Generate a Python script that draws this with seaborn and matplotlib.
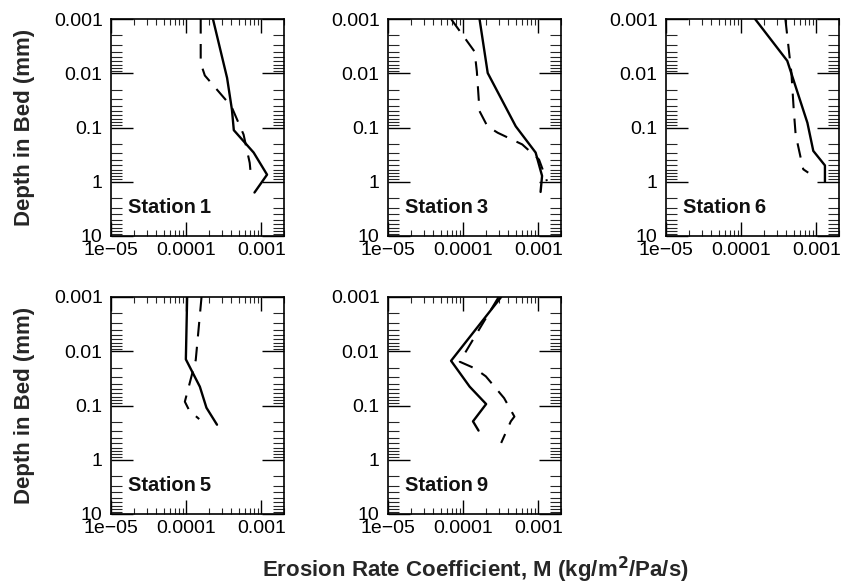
import matplotlib
matplotlib.use("Agg")
import matplotlib.pyplot as plt
import matplotlib.ticker as mticker
import seaborn as sns
import pandas as pd

# ---- data ----
stations = ["Station\u20091", "Station\u20093", "Station\u20096", "Station\u20095", "Station\u20099"]

s1_solid_M = [2.27e-4, 3.5e-4, 4.06e-4, 4.3e-4, 7.9e-4, 1.19e-3, 8.1e-4]
s1_solid_D = [0.001, 0.0122, 0.047, 0.112, 0.29, 0.74, 1.58]
s1_dash_M = [1.56e-4, 1.56e-4, 1.77e-4, 4.0e-4, 5.8e-4, 7.0e-4, 7.3e-4]
s1_dash_D = [0.001, 0.0065, 0.011, 0.041, 0.135, 0.45, 0.84]

s3_solid_M = [1.65e-4, 2.12e-4, 5.0e-4, 9.2e-4, 1.12e-3, 1.07e-3]
s3_solid_D = [0.001, 0.0099, 0.095, 0.29, 0.78, 1.54]
s3_dash_M = [6.9e-5, 1.42e-4, 1.52e-4, 1.65e-4, 2.1e-4, 2.88e-4, 6.1e-4, 1.02e-3, 1.3e-3]
s3_dash_D = [0.001, 0.004, 0.0093, 0.05, 0.095, 0.125, 0.205, 0.39, 0.97]

s6_solid_M = [1.53e-4, 4.1e-4, 7.6e-4, 9.1e-4, 1.3e-3, 1.3e-3]
s6_solid_D = [0.001, 0.0059, 0.082, 0.27, 0.50, 1.0]
s6_dash_M = [3.87e-4, 4.66e-4, 5.0e-4, 5.3e-4, 6.4e-4, 6.7e-4, 7.8e-4]
s6_dash_D = [0.001, 0.01, 0.047, 0.135, 0.45, 0.59, 0.68]

s5_solid_M = [1.03e-4, 9.9e-5, 1.52e-4, 1.86e-4, 2.57e-4]
s5_solid_D = [0.001, 0.0141, 0.045, 0.11, 0.226]
s5_dash_M = [1.6e-4, 1.34e-4, 9.6e-5, 1.1e-4, 1.49e-4]
s5_dash_D = [0.001, 0.0145, 0.085, 0.124, 0.178]

s9_solid_M = [3.2e-4, 6.9e-5, 1.22e-4, 2.02e-4, 1.35e-4, 1.6e-4]
s9_solid_D = [0.001, 0.015, 0.045, 0.094, 0.196, 0.29]
s9_dash_M = [2.96e-4, 9.0e-5, 1.42e-4, 2.0e-4, 3.5e-4, 4.8e-4, 4.3e-4, 3.2e-4]
s9_dash_D = [0.001, 0.0156, 0.0206, 0.029, 0.073, 0.16, 0.196, 0.49]

x_ticks = [1e-5, 1e-4, 1e-3]
x_ticklabels = ["1e\u221205", "0.0001", "0.001"]
y_ticks = [0.001, 0.01, 0.1, 1, 10]
y_ticklabels = ["0.001", "0.01", "0.1", "1", "10"]

panels = [
    (s1_solid_M, s1_solid_D, s1_dash_M, s1_dash_D),
    (s3_solid_M, s3_solid_D, s3_dash_M, s3_dash_D),
    (s6_solid_M, s6_solid_D, s6_dash_M, s6_dash_D),
    (s5_solid_M, s5_solid_D, s5_dash_M, s5_dash_D),
    (s9_solid_M, s9_solid_D, s9_dash_M, s9_dash_D),
]

# ---- style ----
sns.set_style("ticks")
plt.rcParams["font.family"] = ["Liberation Sans", "DejaVu Sans"]

W, H = 853, 586
fig = plt.figure(figsize=(W / 100, H / 100), dpi=100)

col_left = [111, 388, 666]
row_top = [19, 297]
aw, ah = 173, 217

positions = [(0, 0), (0, 1), (0, 2), (1, 0), (1, 1)]

for (r, c), name, (sm, sd, dm, dd) in zip(positions, stations, panels):
    l = col_left[c]
    t = row_top[r]
    ax = fig.add_axes([l / W, 1 - (t + ah) / H, aw / W, ah / H])
    ax.set_xscale("log")
    ax.set_yscale("log")

    df_s = pd.DataFrame({"M": sm, "D": sd})
    df_d = pd.DataFrame({"M": dm, "D": dd})
    sns.lineplot(data=df_s, x="M", y="D", sort=False, estimator=None,
                 color="black", lw=1.7, ax=ax)
    sns.lineplot(data=df_d, x="M", y="D", sort=False, estimator=None,
                 color="black", lw=1.5, linestyle=(0, (7, 5)), ax=ax)

    ax.set_xlim(1e-5, 2e-3)
    ax.set_ylim(10, 0.001)

    ax.xaxis.set_major_locator(mticker.FixedLocator(x_ticks))
    ax.xaxis.set_major_formatter(mticker.FixedFormatter(x_ticklabels))
    ax.xaxis.set_minor_locator(mticker.LogLocator(base=10, subs=range(2, 10), numticks=20))
    ax.xaxis.set_minor_formatter(mticker.NullFormatter())
    ax.yaxis.set_major_locator(mticker.FixedLocator(y_ticks))
    ax.yaxis.set_major_formatter(mticker.FixedFormatter(y_ticklabels))
    ax.yaxis.set_minor_locator(mticker.LogLocator(base=10, subs=range(2, 10), numticks=20))
    ax.yaxis.set_minor_formatter(mticker.NullFormatter())

    ax.tick_params(axis="x", which="major", direction="in", length=10, width=1.0,
                   top=True, bottom=True, labelsize=14, pad=4, colors="black")
    ax.tick_params(axis="x", which="minor", direction="in", length=4.5, width=0.8,
                   top=True, bottom=True)
    ax.tick_params(axis="y", which="major", direction="in", length=16, width=1.0,
                   left=True, right=True, labelsize=14, pad=6, colors="black")
    ax.tick_params(axis="y", which="minor", direction="in", length=8, width=0.8,
                   left=True, right=True)
    for sp in ax.spines.values():
        sp.set_visible(True)
        sp.set_linewidth(1.2)
        sp.set_color("black")

    ax.set_xlabel("")
    ax.set_ylabel("")
    ax.text(0.1, 0.13, name, transform=ax.transAxes, fontsize=14.5,
            fontweight="bold", ha="left", va="center", color="#111111")

for t in row_top:
    yc = 1 - (t + ah / 2) / H
    fig.text(25 / W, yc, "Depth in Bed (mm)", rotation=90, ha="center", va="center",
             fontsize=16, fontweight="bold")

fig.text(475.5 / W, 1 - 577 / H, r"Erosion Rate Coefficient, M (kg/m$^\mathbf{2}$/Pa/s)",
         ha="center", va="baseline", fontsize=16, fontweight="bold")

fig.savefig("out.png", dpi=100)
